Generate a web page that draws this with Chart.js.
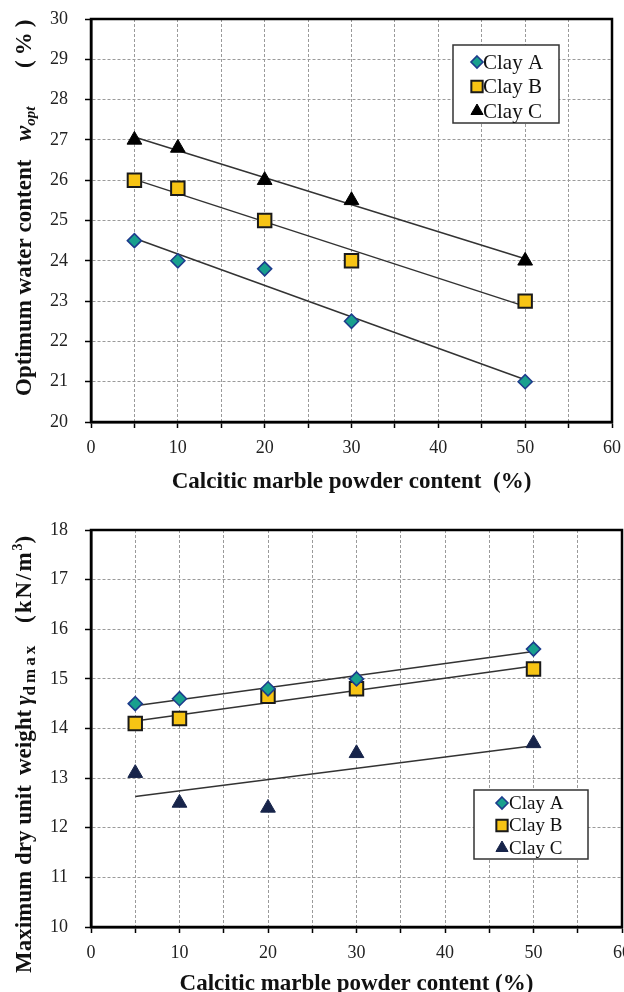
<!DOCTYPE html>
<html><head><meta charset="utf-8">
<script src="https://cdn.jsdelivr.net/npm/chart.js@4.4.0/dist/chart.umd.min.js"></script>
<style>
html,body{margin:0;padding:0;background:#fff;width:624px;height:992px;overflow:hidden;position:relative}
#c1{position:absolute;left:0;top:0}
#c2{position:absolute;left:0;top:500px}
</style></head><body>
<canvas id="c1" width="624" height="500"></canvas>
<canvas id="c2" width="634" height="500"></canvas>
<script>
// ---------- data ----------
const xContent = [5, 10, 20, 30, 50];
const seriesNames = ['Clay A', 'Clay B', 'Clay C'];
const wOptA = [24.5, 24.0, 23.8, 22.5, 21.0];
const wOptB = [26.0, 25.8, 25.0, 24.0, 23.0];
const wOptC = [27.0, 26.8, 26.0, 25.5, 24.0];
const trendX = [5, 50];
const wTrendA = [24.56, 21.05];
const wTrendB = [26.02, 22.87];
const wTrendC = [27.07, 24.05];
const gA = [14.5, 14.6, 14.8, 15.0, 15.6];
const gB = [14.1, 14.2, 14.65, 14.8, 15.2];
const gC = [13.1, 12.5, 12.4, 13.5, 13.7];
const gTrendA = [14.46, 15.55];
const gTrendB = [14.15, 15.26];
const gTrendC = [12.63, 13.65];
const xTickLabels = [0, 10, 20, 30, 40, 50, 60];
const xTitle = 'Calcitic marble powder content  (%)';
const xTitle2 = 'Calcitic marble powder content (%)';

// ---------- helpers ----------
const SERIF = '"Liberation Serif", "Times New Roman", serif';
const pts = (xs, ys) => xs.map((x, i) => ({x: x, y: ys[i]}));

const styleA = {pointStyle: 'rectRot', pointRadius: 7, backgroundColor: '#18a08e', borderColor: '#1d3c8c', borderWidth: 1.6};
const styleB = {pointStyle: 'rect', pointRadius: 9.5, backgroundColor: '#f7c414', borderColor: '#1a1a1a', borderWidth: 2};
const styleC1 = {pointStyle: 'triangle', pointRadius: 8.5, backgroundColor: '#000000', borderColor: '#000000', borderWidth: 1};
const styleC2 = {pointStyle: 'triangle', pointRadius: 8.5, backgroundColor: '#17244a', borderColor: '#17244a', borderWidth: 1};

function scatterDs(label, ys, st) {
  return {label: label, data: pts(xContent, ys), showLine: false,
    pointStyle: st.pointStyle, pointRadius: st.pointRadius, pointHoverRadius: st.pointRadius,
    pointBackgroundColor: st.backgroundColor, pointBorderColor: st.borderColor,
    pointBorderWidth: st.borderWidth, backgroundColor: st.backgroundColor, borderColor: st.borderColor, order: 1};
}
function trendDs(ys) {
  return {label: '', data: pts(trendX, ys), showLine: true, pointRadius: 0, borderColor: '#333333',
    borderWidth: 1.5, fill: false, order: 5};
}

// draws rotated rich text starting at canvas y = y0 and going up
function drawRich(ctx, segs, cx, y0) {
  ctx.save();
  ctx.translate(cx, y0);
  ctx.rotate(-Math.PI / 2);
  ctx.textBaseline = 'middle';
  ctx.textAlign = 'left';
  ctx.fillStyle = '#111';
  let x = 0;
  segs.forEach(s => {
    if (typeof s.pos === 'number') x = s.pos;
    const dy = typeof s.dy === 'number' ? s.dy : 0;
    ctx.font = s.font;
    if (typeof s.ls === 'number') {
      for (const ch of s.t) {
        ctx.fillText(ch, x, dy);
        x += ctx.measureText(ch).width + s.ls;
      }
    } else {
      ctx.fillText(s.t, x, dy);
      x += ctx.measureText(s.t).width;
    }
  });
  ctx.restore();
}

function marker(ctx, st, x, y, r) {
  ctx.save();
  ctx.fillStyle = st.backgroundColor;
  ctx.strokeStyle = st.borderColor;
  ctx.lineWidth = st.borderWidth;
  ctx.beginPath();
  if (st.pointStyle === 'rectRot') {
    ctx.moveTo(x, y - r); ctx.lineTo(x + r, y); ctx.lineTo(x, y + r); ctx.lineTo(x - r, y); ctx.closePath();
  } else if (st.pointStyle === 'rect') {
    const s = r * Math.SQRT1_2;
    ctx.rect(x - s, y - s, 2 * s, 2 * s);
  } else {
    const w = r * Math.sqrt(3) / 2;
    ctx.moveTo(x, y - r); ctx.lineTo(x + w, y + r / 2); ctx.lineTo(x - w, y + r / 2); ctx.closePath();
  }
  ctx.fill(); ctx.stroke();
  ctx.restore();
}

function makeDecor(o) {
  return {
    id: 'decor',
    beforeDatasetsDraw(chart) {
      const ctx = chart.ctx, a = chart.chartArea;
      ctx.save();
      ctx.strokeStyle = '#000';
      ctx.lineWidth = 2.5;
      ctx.strokeRect(a.left, a.top, a.right - a.left, a.bottom - a.top);
      ctx.restore();
    },
    afterDraw(chart) {
      const ctx = chart.ctx;
      drawRich(ctx, o.ySegs, o.yx, o.y0);
      const L = o.legend;
      ctx.save();
      ctx.fillStyle = '#fff';
      ctx.fillRect(L.x, L.y, L.w, L.h);
      ctx.strokeStyle = '#333';
      ctx.lineWidth = 1.5;
      ctx.strokeRect(L.x, L.y, L.w, L.h);
      ctx.font = L.font;
      ctx.fillStyle = '#111';
      ctx.textBaseline = 'middle';
      ctx.textAlign = 'left';
      L.items.forEach((it, i) => {
        const y = L.y0 + i * L.dy;
        marker(ctx, it.st, L.mx, y, it.r);
        ctx.fillText(it.label, L.tx, y + 1);
      });
      ctx.restore();
    }
  };
}

function axes(ymin, ymax, yW, xH, titleText, titlePad) {
  return {
    x: {type: 'linear', min: 0, max: 60,
      ticks: {stepSize: 5, autoSkip: false, maxRotation: 0, padding: 9,
        font: {family: SERIF, size: 18}, color: '#222',
        callback: v => xTickLabels.includes(v) ? String(v) : ''},
      grid: {color: '#9a9a9a', lineWidth: 1, tickLength: 6, tickColor: '#000', tickWidth: 1.5},
      border: {display: true, color: '#000', width: 2.5, dash: [3, 2]},
      title: {display: true, text: titleText, font: {family: SERIF, size: 23, weight: 'bold'}, color: '#111',
        padding: {top: 0, bottom: titlePad}},
      afterFit: s => { s.height = xH; s.paddingLeft = 0; s.paddingRight = 0; }
    },
    y: {type: 'linear', min: ymin, max: ymax,
      ticks: {stepSize: 1, padding: 17, font: {family: SERIF, size: 18}, color: '#222'},
      grid: {color: '#9a9a9a', lineWidth: 1, tickLength: 6, tickColor: '#000', tickWidth: 1.5},
      border: {display: true, color: '#000', width: 2.5, dash: [3, 2]},
      afterFit: s => { s.width = yW; s.paddingTop = 0; s.paddingBottom = 0; }
    }
  };
}

const B23 = 'bold 23px ' + SERIF;
// ---------- chart 1 ----------
new Chart(document.getElementById('c1'), {
  type: 'scatter',
  data: {datasets: [
    scatterDs(seriesNames[0], wOptA, styleA),
    scatterDs(seriesNames[1], wOptB, styleB),
    scatterDs(seriesNames[2], wOptC, styleC1),
    trendDs(wTrendA), trendDs(wTrendB), trendDs(wTrendC)
  ]},
  options: {
    responsive: false, animation: false, devicePixelRatio: 1,
    layout: {padding: {top: 19, right: 12, left: 0, bottom: 0}},
    scales: axes(20, 30, 91, 78, xTitle, 4),
    plugins: {legend: {display: false}, tooltip: {enabled: false}}
  },
  plugins: [makeDecor({
    yx: 25, y0: 396,
    ySegs: [
      {t: 'Optimum water content', font: B23, pos: 0},
      {t: 'w', font: 'bold italic 23px ' + SERIF, pos: 255},
      {t: 'opt', font: 'bold italic 15px ' + SERIF, dy: 6},
      {t: '(%)', font: B23, pos: 328, ls: 5}
    ],
    legend: {x: 453, y: 45, w: 106, h: 78, y0: 62, dy: 24.5, mx: 477, tx: 483,
      font: '21px ' + SERIF,
      items: [
        {label: seriesNames[0], st: styleA, r: 6},
        {label: seriesNames[1], st: styleB, r: 8},
        {label: seriesNames[2], st: styleC1, r: 7}
      ]}
  })]
});

// ---------- chart 2 ----------
new Chart(document.getElementById('c2'), {
  type: 'scatter',
  data: {datasets: [
    scatterDs(seriesNames[0], gA, styleA),
    scatterDs(seriesNames[1], gB, styleB),
    scatterDs(seriesNames[2], gC, styleC2),
    trendDs(gTrendA), trendDs(gTrendB), trendDs(gTrendC)
  ]},
  options: {
    responsive: false, animation: false, devicePixelRatio: 1,
    layout: {padding: {top: 30, right: 12, left: 0, bottom: 0}},
    scales: axes(10, 18, 91, 73, xTitle2, 2),
    plugins: {legend: {display: false}, tooltip: {enabled: false}}
  },
  plugins: [makeDecor({
    yx: 25, y0: 473,
    ySegs: [
      {t: 'Maximum dry unit', font: B23, pos: 0},
      {t: 'weight', font: B23, pos: 198},
      {t: 'γ', font: 'bold italic 23px ' + SERIF, pos: 268},
      {t: 'dmax', font: 'bold 17px ' + SERIF, dy: 6, ls: 3},
      {t: '(kN/m', font: B23, pos: 350, ls: 2},
      {t: '3', font: 'bold 14px ' + SERIF, dy: -7},
      {t: ')', font: B23}
    ],
    legend: {x: 474, y: 290, w: 114, h: 69, y0: 303, dy: 22.5, mx: 502, tx: 509,
      font: '19px ' + SERIF,
      items: [
        {label: seriesNames[0], st: styleA, r: 6},
        {label: seriesNames[1], st: styleB, r: 8},
        {label: seriesNames[2], st: styleC2, r: 7}
      ]}
  })]
});
</script>
</body></html>
